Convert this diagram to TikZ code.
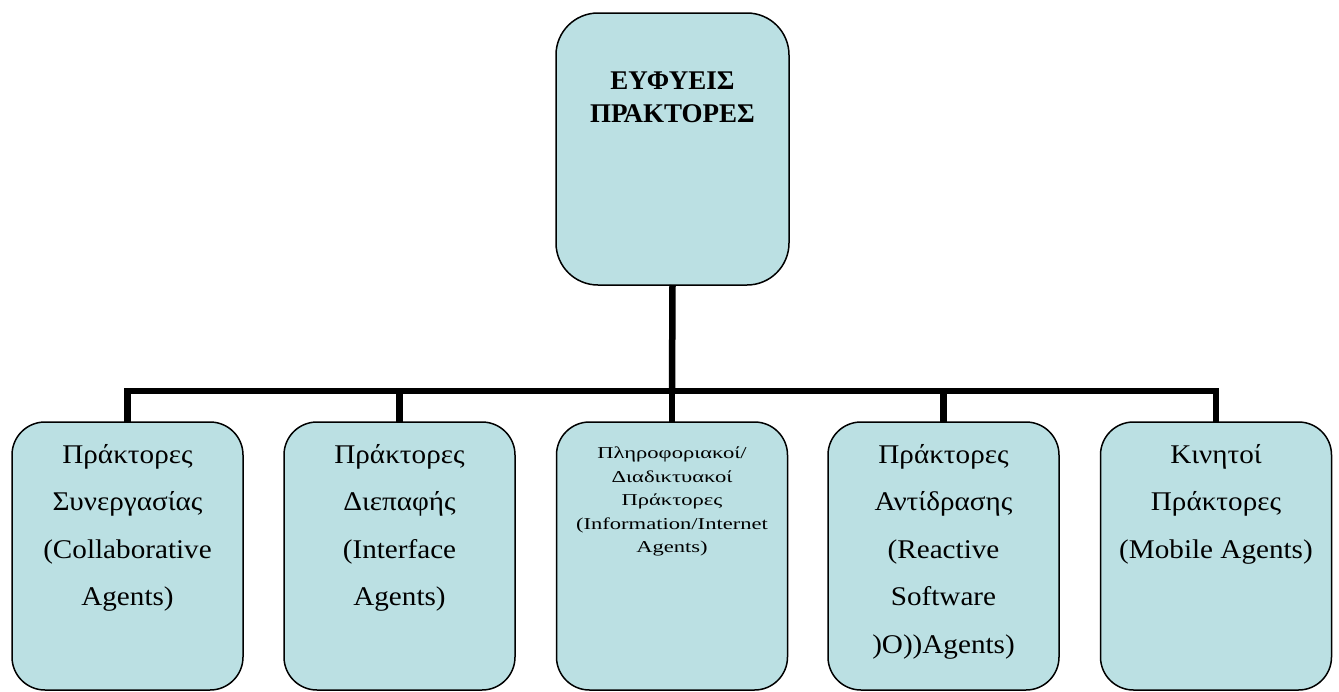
\documentclass[tikz,border=0pt]{standalone}
\usepackage{fontspec}
\setmainfont{Liberation Serif}
\newfontfamily\boxfont[FakeStretch=1.08]{Liberation Serif}
\newfontfamily\midfont[FakeStretch=1.36]{Liberation Serif}
\definecolor{boxfill}{RGB}{187,224,227}
\tikzset{
  box/.style={draw=black, line width=1.5pt, fill=boxfill, rounded corners=33pt,
    minimum width=231pt, minimum height=268pt, inner sep=0pt, outer sep=0pt},
  topbox/.style={box, rounded corners=42pt, minimum width=233pt, minimum height=272pt},
  conn/.style={draw=black, line width=6.5pt, line join=miter, line cap=butt},
  lbl/.style={anchor=north, inner sep=0pt, align=center,
    font=\boxfont\fontsize{27}{47.5}\selectfont},
  midlbl/.style={anchor=north, inner sep=0pt, align=center,
    font=\midfont\fontsize{16.6}{23.4}\selectfont},
  titlelbl/.style={anchor=north, inner sep=0pt, align=center,
    font=\bfseries\fontsize{27}{33}\selectfont}
}
\begin{document}
\begin{tikzpicture}[x=1pt,y=-1pt]
\useasboundingbox (0,0) rectangle (1339,691);
% boxes
\node[topbox] (top) at (672.5,149) {};
\node[box] (b1) at (127.5,556) {};
\node[box] (b2) at (399.5,556) {};
\node[box] (b3) at (672,556) {};
\node[box] (b4) at (943.5,556) {};
\node[box] (b5) at (1216,556) {};
% connectors
\coordinate (bus) at (672,391);
\draw[conn] (b1.north) |- (bus) -| (b5.north);
\draw[conn] (top.south) -- (bus);
\draw[conn] (bus) -- (b3.north);
\draw[conn] (b2.north) -- (b2.north |- bus);
\draw[conn] (b4.north) -- (b4.north |- bus);
% texts
\node[titlelbl] (ttop) at (672.5,72) {ΕΥΦΥΕΙΣ\\ΠΡΑΚΤΟΡΕΣ};
\node[lbl] (t1) at (127.5,444) {Πράκτορες\\Συνεργασίας\\(Collaborative\\Agents)};
\node[lbl] (t2) at (399.5,444) {Πράκτορες\\Διεπαφής\\(Interface\\Agents)};
\node[midlbl] (t3) at (672,447) {Πληροφοριακοί/\\Διαδικτυακοί\\Πράκτορες\\(Information/Internet\\Agents)};
\node[lbl] (t4) at (943.5,444) {Πράκτορες\\Αντίδρασης\\(Reactive\\Software\\)O))Agents)};
\node[lbl] (t5) at (1216,444) {Κινητοί\\Πράκτορες\\(Mobile Agents)};
\end{tikzpicture}
\end{document}
